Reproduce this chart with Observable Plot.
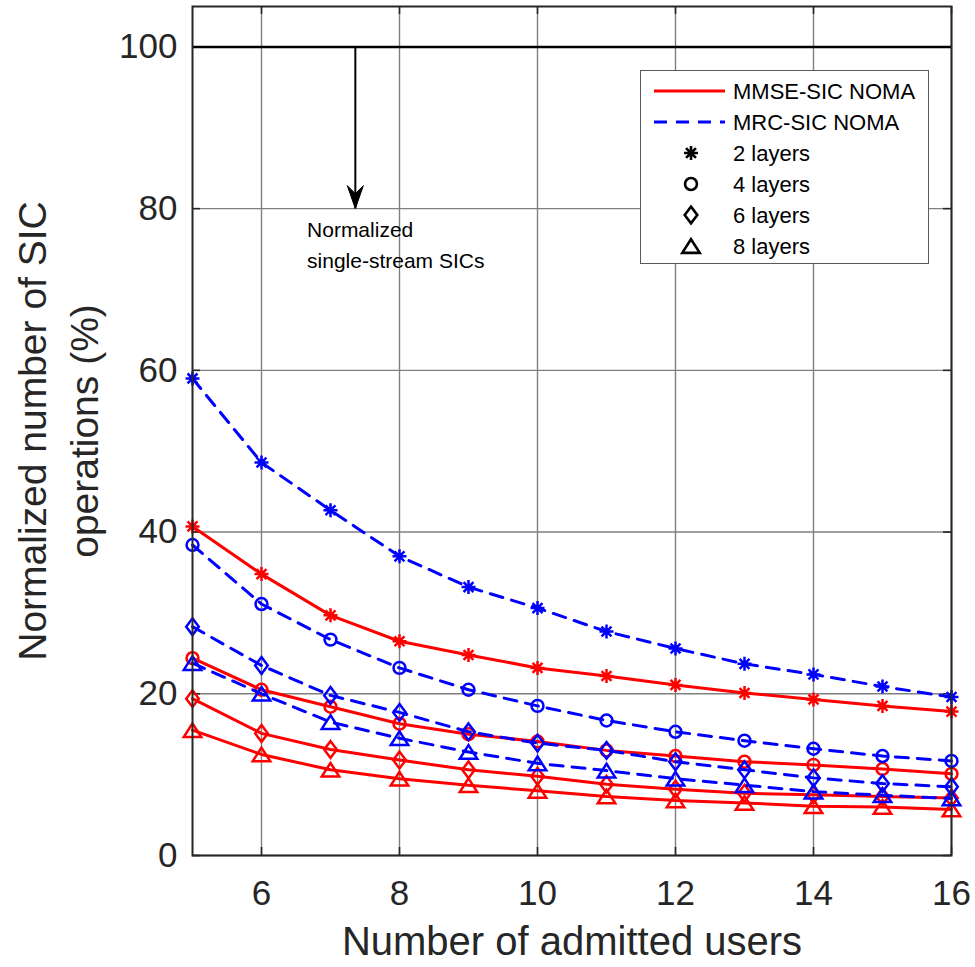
<!DOCTYPE html>
<html><head><meta charset="utf-8">
<script src="https://cdn.jsdelivr.net/npm/d3@7"></script>
<script src="https://cdn.jsdelivr.net/npm/@observablehq/plot@0.6"></script>
<style>
body{margin:0;background:#fff;}
#wrap{position:relative;width:975px;height:967px;font-family:"Liberation Sans",Arial,sans-serif;}
#legend{position:absolute;left:640px;top:70px;}
</style></head><body><div id="wrap"></div>
<script>
// ---- data ----
const users = [5,6,7,8,9,10,11,12,13,14,15,16];
const mmse2 = [40.7,34.8,29.7,26.5,24.8,23.2,22.2,21.1,20.1,19.3,18.5,17.8];
const mmse4 = [24.4,20.5,18.4,16.3,15.0,14.1,13.0,12.3,11.6,11.2,10.7,10.1];
const mmse6 = [19.4,15.1,13.1,11.8,10.6,9.8,8.8,8.2,7.7,7.5,7.3,7.1];
const mmse8 = [15.5,12.5,10.6,9.5,8.7,8.0,7.3,6.8,6.5,6.1,6.0,5.7];
const mrc2  = [59.0,48.6,42.7,37.0,33.2,30.6,27.7,25.6,23.7,22.4,20.9,19.6];
const mrc4  = [38.4,31.1,26.7,23.2,20.5,18.5,16.7,15.3,14.2,13.2,12.3,11.7];
const mrc6  = [28.3,23.5,19.8,17.7,15.3,13.9,13.0,11.6,10.6,9.6,8.9,8.5];
const mrc8  = [23.8,20.0,16.5,14.5,12.8,11.4,10.5,9.5,8.7,7.9,7.45,7.05];
const xTicks = [6,8,10,12,14,16];
const yTicks = [0,20,40,60,80,100];
const singleStream = [100];
const arrowX = 7.36, arrowFrom = 100, arrowTo = 80;
const annotText = "Normalized\nsingle-stream SICs";
const annotX = 6.66, annotY = 79.3;
const xTitle = "Number of admitted users";
const yTitle = "Normalized number of SIC\noperations (%)";
const methodLabels = ["MMSE-SIC NOMA","MRC-SIC NOMA"];
const layerLabels = ["2 layers","4 layers","6 layers","8 layers"];

// ---- symbols ----
const rad = s => Math.sqrt(s/Math.PI);
const symAsterisk = {draw(c,s){const r=rad(s);for(const a of [0,45,90,135]){const t=a*Math.PI/180,dx=r*Math.cos(t),dy=r*Math.sin(t);c.moveTo(-dx,-dy);c.lineTo(dx,dy);}}};
const symCircle = {draw(c,s){const r=rad(s)*0.85;c.moveTo(r,0);c.arc(0,0,r,0,2*Math.PI);c.closePath();}};
const symDiamond = {draw(c,s){const r=rad(s);c.moveTo(0,-1.2*r);c.lineTo(0.9*r,0);c.lineTo(0,1.2*r);c.lineTo(-0.9*r,0);c.closePath();}};
const symTriangle = {draw(c,s){const r=rad(s),w=1.25*r,h=1.95*r;c.moveTo(0,-h/2);c.lineTo(w,h/2);c.lineTo(-w,h/2);c.closePath();}};
const symArrowHead = {draw(c,s){c.moveTo(0,0);c.lineTo(-8,-23);c.lineTo(0,-15);c.lineTo(8,-23);c.closePath();}};
const layerSymbols = [symAsterisk,symCircle,symDiamond,symTriangle];

const RED="#ff0000", BLUE="#0000ff", INK="#262626";
const mmse=[mmse2,mmse4,mmse6,mmse8], mrc=[mrc2,mrc4,mrc6,mrc8];
const rows = (arrs, method) => arrs.flatMap((a,li)=>a.map((v,i)=>({users:users[i],value:v,layer:li,method})));
const redRows = rows(mmse,"MMSE"), blueRows = rows(mrc,"MRC");

const W=975,H=967,mL=192,mR=24,mT=6,mB=112;
const plotW=W-mL-mR, plotH=H-mT-mB, tickLen=8;

const marks = [
  Plot.gridX(xTicks,{stroke:"#808080",strokeOpacity:1,strokeWidth:1.4}),
  Plot.gridY(yTicks,{stroke:"#808080",strokeOpacity:1,strokeWidth:1.4}),
  Plot.tickX(xTicks,{x:d=>d,insetTop:plotH-tickLen,stroke:INK,strokeWidth:1.6}),
  Plot.tickX(xTicks,{x:d=>d,insetBottom:plotH-tickLen,stroke:INK,strokeWidth:1.6}),
  Plot.tickY(yTicks,{y:d=>d,insetRight:plotW-tickLen,stroke:INK,strokeWidth:1.6}),
  Plot.tickY(yTicks,{y:d=>d,insetLeft:plotW-tickLen,stroke:INK,strokeWidth:1.6}),
  Plot.ruleY(singleStream,{stroke:"#000",strokeWidth:2.6}),
  Plot.ruleX([arrowX],{y1:arrowFrom,y2:arrowTo,stroke:"#000",strokeWidth:2}),
  Plot.dot([{x:arrowX,y:arrowTo}],{x:"x",y:"y",r:5,symbol:symArrowHead,fill:"#000",stroke:"#000",strokeWidth:1}),
  Plot.text([annotText],{x:()=>annotX,y:()=>annotY,textAnchor:"start",lineAnchor:"top",fontSize:21,lineHeight:1.5,fill:"#000"}),
  Plot.line(redRows,{x:"users",y:"value",z:"layer",stroke:RED,strokeWidth:3}),
  ...layerSymbols.map((s,li)=>Plot.dot(redRows.filter(d=>d.layer===li),{x:"users",y:"value",r:7,symbol:s,fill:"none",stroke:RED,strokeWidth:2.5})),
  Plot.line(blueRows,{x:"users",y:"value",z:"layer",stroke:BLUE,strokeWidth:3,strokeDasharray:"13,9"}),
  ...layerSymbols.map((s,li)=>Plot.dot(blueRows.filter(d=>d.layer===li),{x:"users",y:"value",r:7,symbol:s,fill:"none",stroke:BLUE,strokeWidth:2.5})),
  Plot.frame({stroke:INK,strokeWidth:2}),
  Plot.axisX(xTicks,{tickSize:0,tickPadding:25,fontSize:35,fill:INK,label:null}),
  Plot.axisY(yTicks,{tickSize:0,tickPadding:15,fontSize:35,fill:INK,label:null}),
  Plot.text([xTitle],{frameAnchor:"bottom",dy:87,fontSize:40,lineAnchor:"middle",fill:INK}),
  Plot.text([yTitle],{frameAnchor:"left",dx:-137,rotate:-90,fontSize:39,lineHeight:1.33,lineAnchor:"middle",textAnchor:"middle",fill:INK})
];

const chart = Plot.plot({
  width:W,height:H,marginLeft:mL,marginRight:mR,marginTop:mT,marginBottom:mB,
  style:{fontFamily:'"Liberation Sans",Arial,sans-serif',background:"#fff",overflow:"visible"},
  x:{domain:[5,16]},
  y:{domain:[0,105]},
  marks
});
document.getElementById("wrap").appendChild(chart);

// ---- legend (HTML overlay) ----
const lg = d3.select("#wrap").append("svg").attr("id","legend").attr("width",289).attr("height",194)
  .style("font-family",'"Liberation Sans",Arial,sans-serif');
lg.append("rect").attr("x",0.5).attr("y",0.5).attr("width",288).attr("height",193).attr("fill","#fff").attr("stroke","#5a5a5a").attr("stroke-width",1);
const rowY = i => 21 + i*31;
const lineStyles = [{stroke:RED,dash:null},{stroke:BLUE,dash:"13,9"}];
methodLabels.forEach((lab,i)=>{
  const g = lg.append("g");
  g.append("line").attr("x1",14).attr("x2",85).attr("y1",rowY(i)).attr("y2",rowY(i))
   .attr("stroke",lineStyles[i].stroke).attr("stroke-width",3).attr("stroke-dasharray",lineStyles[i].dash);
  g.append("text").attr("x",93).attr("y",rowY(i)).attr("dy","0.36em").attr("font-size",22).attr("fill","#000").text(lab);
});
layerLabels.forEach((lab,j)=>{
  const i=j+2;
  lg.append("path").attr("transform",`translate(51,${rowY(i)})`).attr("d",d3.symbol(layerSymbols[j],Math.PI*49)())
    .attr("fill","none").attr("stroke","#000").attr("stroke-width",2.6);
  lg.append("text").attr("x",93).attr("y",rowY(i)).attr("dy","0.36em").attr("font-size",22).attr("fill","#000").text(lab);
});
</script></body></html>
